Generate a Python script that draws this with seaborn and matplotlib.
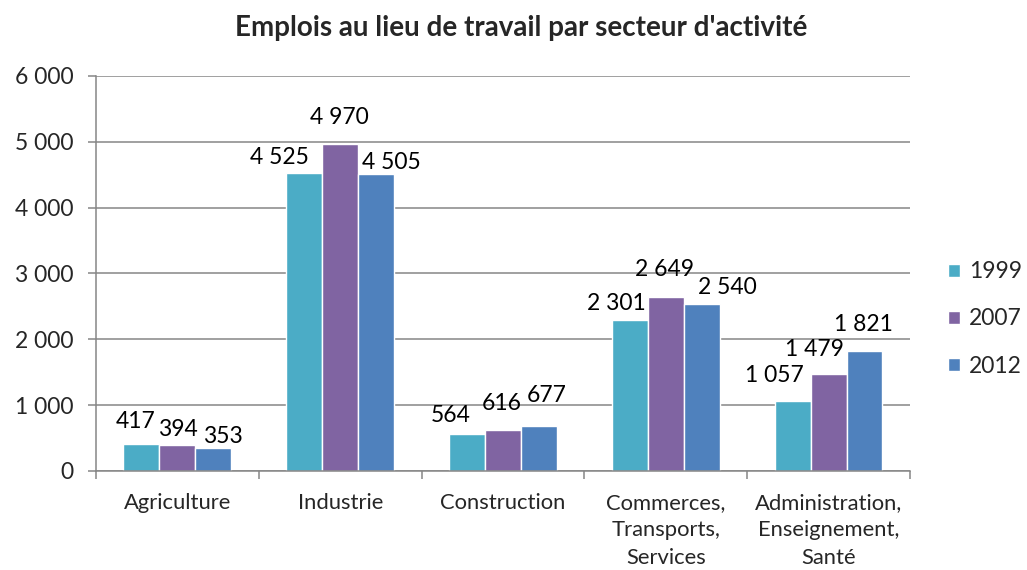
import matplotlib
matplotlib.use("Agg")
import matplotlib.pyplot as plt
from matplotlib.ticker import FuncFormatter, FixedLocator
import seaborn as sns
import pandas as pd

secteurs = ["Agriculture", "Industrie", "Construction",
            "Commerces,\nTransports,\nServices",
            "Administration,\nEnseignement,\nSanté"]
annees = ["1999", "2007", "2012"]
emplois_1999 = [417, 4525, 564, 2301, 1057]
emplois_2007 = [394, 4970, 616, 2649, 1479]
emplois_2012 = [353, 4505, 677, 2540, 1821]
couleurs = ["#4BACC6", "#8064A2", "#4F81BD"]

# hand-placed label offsets (pixels: dx from bar centre, dy from bar top),
# one row per year, one entry per sector
decalages = [
    [(-6, 22), (-25, 16), (-16, 18), (-13, 16.5), (-18, 25.5)],
    [(0, 16), (-1, 26), (-1, 27), (-1, 27), (-14, 24)],
    [(10, 11), (15, 12), (8, 31), (26, 16), (-1, 27)],
]

rows = []
for annee, valeurs in zip(annees, [emplois_1999, emplois_2007, emplois_2012]):
    for s, v in zip(secteurs, valeurs):
        rows.append({"secteur": s, "annee": annee, "emplois": v})
df = pd.DataFrame(rows)

sns.set_theme(style="white")
plt.rcParams["font.family"] = ["Lato", "DejaVu Sans"]

fig = plt.figure(figsize=(10.27, 5.7), dpi=100)
ax = fig.add_axes([0.0935, 0.1737, 0.7925, 0.693])

sns.barplot(data=df, x="secteur", y="emplois", hue="annee", order=secteurs,
            hue_order=annees, palette=couleurs, saturation=1, width=0.663,
            gap=0, ax=ax, errorbar=None)

def fmt(v):
    return f"{int(round(v)):,}".replace(",", " ")

for cont, offs in zip(ax.containers, decalages):
    for bar, (dx, dy) in zip(cont, offs):
        h = bar.get_height()
        ax.annotate(fmt(h), xy=(bar.get_x() + bar.get_width() / 2, h),
                    xytext=(dx, dy), textcoords="offset pixels",
                    ha="center", va="center", fontsize=16.5, color="black")

ax.set_ylim(0, 6000)
ax.set_xlim(-0.5, 4.5)
ax.set_yticks(range(0, 6001, 1000))
ax.yaxis.set_major_formatter(FuncFormatter(lambda v, p: fmt(v)))
ax.grid(axis="y", color="#868686", linewidth=1.1)
ax.set_axisbelow(True)
for side in ["top", "right"]:
    ax.spines[side].set_visible(False)
for side in ["left", "bottom"]:
    ax.spines[side].set_color("#868686")
    ax.spines[side].set_linewidth(1.1)

ax.tick_params(axis="y", which="major", left=True, length=6, width=1.1,
               color="#868686", labelsize=16.5, pad=10)
ax.tick_params(axis="x", which="major", bottom=False, labelsize=15.8, pad=10)
ax.xaxis.set_minor_locator(FixedLocator([-0.5, 0.5, 1.5, 2.5, 3.5, 4.5]))
ax.tick_params(axis="x", which="minor", bottom=True, length=6, width=1.1,
               color="#868686")
for lab in ax.get_xticklabels():
    lab.set_linespacing(1.45)
ax.set_xlabel("")
ax.set_ylabel("")

handles, labels = ax.get_legend_handles_labels()
ax.legend(handles, labels, loc="center left", bbox_to_anchor=(1.047, 0.385),
          frameon=False, fontsize=16.5, labelspacing=1.14, handlelength=0.5,
          handleheight=0.5, handletextpad=0.4, borderpad=0, borderaxespad=0)

fig.text(0.507, 0.951, "Emplois au lieu de travail par secteur d'activité",
         ha="center", va="center", fontsize=20, fontweight="bold")

fig.savefig("out.png", dpi=100)
